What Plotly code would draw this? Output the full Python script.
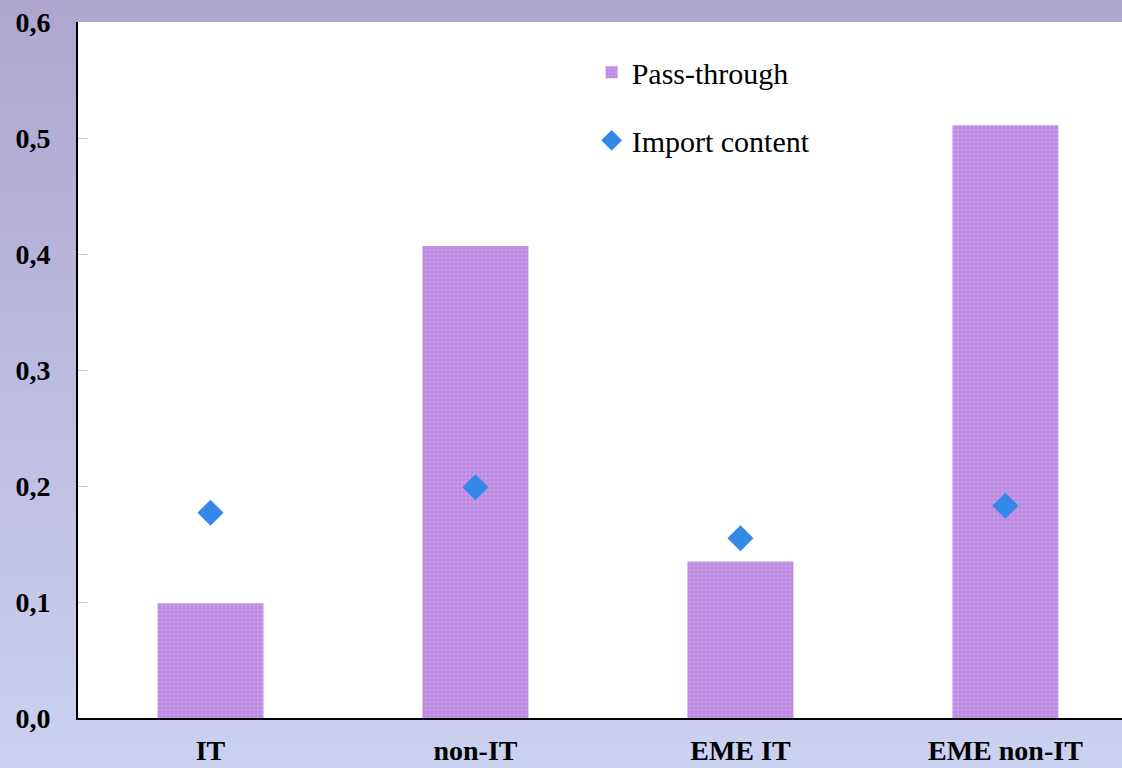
import plotly.graph_objects as go

categories = ["IT", "non-IT", "EME IT", "EME non-IT"]
pass_through = [0.099, 0.407, 0.135, 0.511]
import_content = [0.177, 0.199, 0.155, 0.183]
y_ticks = [0.0, 0.1, 0.2, 0.3, 0.4, 0.5, 0.6]

FONT = "Liberation Serif"

fig = go.Figure()
fig.add_trace(go.Bar(
    x=categories, y=pass_through, name="Pass-through", width=0.4,
    marker=dict(color="#C99DE8", line=dict(width=0),
                pattern=dict(shape="+", fgcolor="#A068D8", size=4, solidity=0.45)),
    legendgroup="a",
))
fig.add_trace(go.Scatter(
    x=categories, y=import_content, name="Import content", mode="markers",
    marker=dict(symbol="diamond", size=20, color="#3388E8", line=dict(width=0)),
    legendgroup="b",
))

# background vertical gradient
shapes = []
n = 120
top = (172, 163, 205)
bot = (204, 210, 242)
for i in range(n):
    t = i / (n - 1)
    c = tuple(round(top[k] + (bot[k] - top[k]) * t) for k in range(3))
    shapes.append(dict(type="rect", xref="paper", yref="paper",
                       x0=-0.2, x1=1.2,
                       y0=1.1 - (i + 1) * (1.2 / n) - 0.002, y1=1.1 - i * (1.2 / n),
                       fillcolor="rgb(%d,%d,%d)" % c, line=dict(width=0), layer="below"))
# white plot area on top of gradient
shapes.append(dict(type="rect", xref="paper", yref="paper", x0=0, x1=1.01, y0=0, y1=1,
                   fillcolor="white", line=dict(width=0), layer="below"))

fig.update_layout(
    width=1122, height=768,
    margin=dict(l=78, r=0, t=22, b=50),
    paper_bgcolor="rgb(188,186,224)",
    plot_bgcolor="white",
    shapes=shapes,
    separators=", ",
    font=dict(family=FONT, color="black"),
    showlegend=True,
    legend=dict(x=0.492, y=0.965, xanchor="left", yanchor="top",
                bgcolor="rgba(0,0,0,0)", font=dict(size=30, family=FONT),
                tracegroupgap=26, itemwidth=30),
    bargap=0.6,
)
fig.update_xaxes(range=[-0.5, 3.44], showline=True, linecolor="black", linewidth=2,
                 ticks="", showgrid=False, ticklabelstandoff=6,
                 tickfont=dict(size=28, family=FONT, weight="bold"))
fig.update_yaxes(range=[0, 0.6], tickvals=y_ticks, tickformat=".1f",
                 showline=True, linecolor="black", linewidth=2,
                 ticks="inside", ticklen=9, tickcolor="#C8C8C8", tickwidth=1,
                 showgrid=False, zeroline=False, ticklabelstandoff=20,
                 tickfont=dict(size=28, family=FONT, weight="bold"))

fig.write_html("out.html")
